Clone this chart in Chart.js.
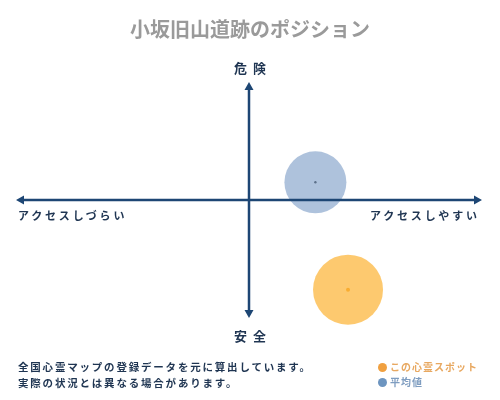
<!DOCTYPE html>
<html>
<head>
<meta charset="utf-8">
<script src="https://cdn.jsdelivr.net/npm/chart.js@4"></script>
<style>
  body { margin: 0; background: #fff; }
  #wrap { position: relative; width: 500px; height: 400px; font-family: "Noto Sans CJK JP", sans-serif; }
  #chart { position: absolute; left: 0; top: 0; }
  .t { position: absolute; white-space: nowrap; font-weight: bold; color: #1f3552; line-height: 1; }
  #title { left: 0; width: 500px; top: 19px; text-align: center; font-size: 20px; color: #9a9a9a; }
  #up { left: 0; width: 500px; top: 61px; text-align: center; font-size: 13px; letter-spacing: 6px; text-indent: 6px; }
  #down { left: 0; width: 500px; top: 329px; text-align: center; font-size: 13px; letter-spacing: 6px; text-indent: 6px; }
  #left { left: 18px; top: 210px; font-size: 11px; letter-spacing: 2.8px; }
  #right { left: 370px; top: 210px; font-size: 11px; letter-spacing: 2.8px; }
  .note { left: 18px; font-size: 10.5px; letter-spacing: 1.8px; }
  .leg { left: 378px; font-size: 10px; letter-spacing: 1px; font-weight: bold; }
  .leg i { display: inline-block; width: 9px; height: 9px; border-radius: 50%; margin-right: 3px; vertical-align: -1px; }
</style>
</head>
<body>
<div id="wrap">
  <canvas id="chart" width="500" height="400"></canvas>
  <div class="t" id="title">小坂旧山道跡のポジション</div>
  <div class="t" id="up">危険</div>
  <div class="t" id="down">安全</div>
  <div class="t" id="left">アクセスしづらい</div>
  <div class="t" id="right">アクセスしやすい</div>
  <div class="t note" style="top:362px">全国心霊マップの登録データを元に算出しています。</div>
  <div class="t note" style="top:378px">実際の状況とは異なる場合があります。</div>
  <div class="t leg" id="leg0" style="top:362px"></div>
  <div class="t leg" id="leg1" style="top:377px"></div>
</div>
<script>
'use strict';

const seriesLabels = ['この心霊スポット', '平均値'];
const accessX = [4.25, 2.85];
const dangerY = [-7.6, 1.5];
const bubbleR = [35, 31];
const fillColors = ['rgba(252,178,50,0.7)', 'rgba(120,153,196,0.6)'];
const dotColors = ['#f0a030', '#333333'];
const legendColors = ['#f0a040', '#6d95c0'];
const legendTextColors = ['#e8a860', '#7f9dc0'];

seriesLabels.forEach((label, i) => {
    const el = document.getElementById('leg' + i);
    el.innerHTML = '<i style="background:' + legendColors[i] + '"></i>' + label;
    el.style.color = legendTextColors[i];
});

const axisColor = '#1d4674';

const crossAxes = {
    id: 'crossAxes',
    afterDatasetsDraw(chart) {
        const ctx = chart.ctx;
        const area = chart.chartArea;
        const x0 = chart.scales.x.getPixelForValue(0);
        const y0 = chart.scales.y.getPixelForValue(0);
        ctx.save();
        ctx.strokeStyle = axisColor;
        ctx.fillStyle = axisColor;
        ctx.lineWidth = 2.5;
        ctx.beginPath();
        ctx.moveTo(area.left + 4, y0);
        ctx.lineTo(area.right - 4, y0);
        ctx.moveTo(x0, area.top + 4);
        ctx.lineTo(x0, area.bottom - 4);
        ctx.stroke();
        const a = 8, w = 4.5;
        ctx.beginPath();
        ctx.moveTo(area.left, y0); ctx.lineTo(area.left + a, y0 - w); ctx.lineTo(area.left + a, y0 + w); ctx.closePath();
        ctx.moveTo(area.right, y0); ctx.lineTo(area.right - a, y0 - w); ctx.lineTo(area.right - a, y0 + w); ctx.closePath();
        ctx.moveTo(x0, area.top); ctx.lineTo(x0 - w, area.top + a); ctx.lineTo(x0 + w, area.top + a); ctx.closePath();
        ctx.moveTo(x0, area.bottom); ctx.lineTo(x0 - w, area.bottom - a); ctx.lineTo(x0 + w, area.bottom - a); ctx.closePath();
        ctx.fill();
        ctx.restore();
    }
};

const bubbleSets = seriesLabels.map((label, i) => ({
    type: 'bubble',
    label: label,
    data: [{ x: accessX[i], y: dangerY[i], r: bubbleR[i] }],
    backgroundColor: fillColors[i],
    borderWidth: 0,
    clip: false
}));

const dotSets = seriesLabels.map((label, i) => ({
    type: 'scatter',
    label: label + ' center',
    data: [{ x: accessX[i], y: dangerY[i] }],
    backgroundColor: dotColors[i],
    borderWidth: 0,
    pointRadius: i === 0 ? 2 : 1.2,
    clip: false
}));

new Chart(document.querySelector('#chart'), {
    type: 'bubble',
    data: { datasets: bubbleSets.concat(dotSets) },
    options: {
        responsive: false,
        animation: false,
        layout: { autoPadding: false, padding: { left: 16, right: 18, top: 82, bottom: 82 } },
        plugins: { legend: { display: false }, tooltip: { enabled: false } },
        scales: {
            x: { min: -10, max: 10, display: false },
            y: { min: -10, max: 10, display: false }
        }
    },
    plugins: [crossAxes]
});
</script>
</body>
</html>
